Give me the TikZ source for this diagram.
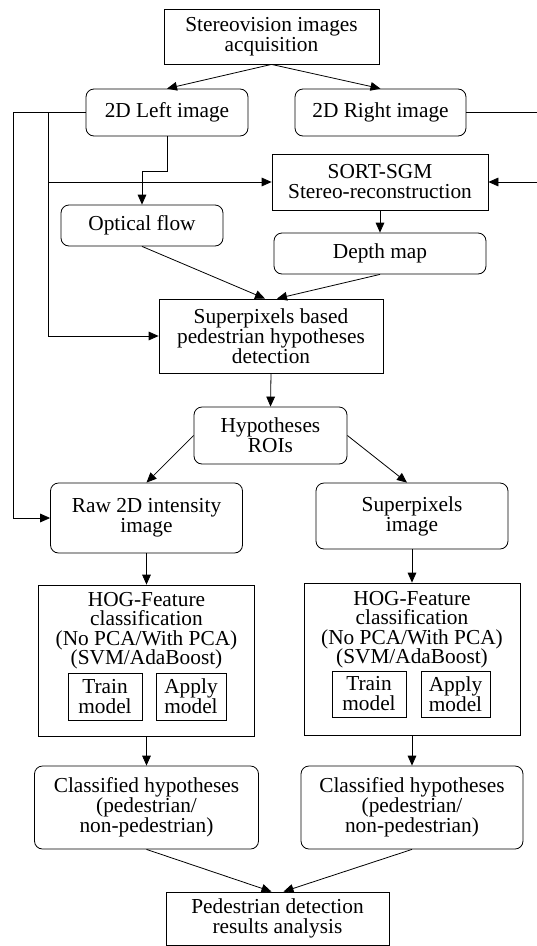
\documentclass[tikz,border=0pt]{standalone}
\usepackage{fontspec}
\setmainfont{Liberation Serif}
\usetikzlibrary{arrows.meta, calc}
\tikzset{
	flow chart/.is family,
	flow chart/.cd,
	process/.style = {
		draw,
		rectangle,
		align = center,
		inner sep = 0pt,
		line width = 0.6pt,
		font = \fontsize{16}{15}\selectfont,
	},
	data/.style = {
		flow chart/process,
		rounded corners = 6pt,
	},
	caption/.style = {
		align = center,
		inner sep = 0pt,
		font = \fontsize{16}{14.6}\selectfont,
	},
	link/.style = {
		line width = 0.6pt,
		-{Triangle[length = 7.5pt, width = 6.5pt]},
	},
}

\begin{document}
\begin{tikzpicture}[x = 0.75pt, y = -0.75pt]
	\useasboundingbox (0, 0) rectangle (536, 946);

	% inputs
	\node[flow chart/process, minimum width = 161.25pt, minimum height = 41.25pt] (acq) at (271.5, 36.5) {Stereovision images\\acquisition};
	\node[flow chart/data, minimum width = 121.5pt, minimum height = 35.25pt] (left) at (167, 112.5) {2D Left image};
	\node[flow chart/data, minimum width = 128.25pt, minimum height = 35.25pt] (right) at (380.5, 112.5) {2D Right image};
	\node[flow chart/process, minimum width = 162pt, minimum height = 42pt] (sgm) at (380, 182) {SORT-SGM\\Stereo-reconstruction};
	\node[flow chart/data, minimum width = 121.5pt, minimum height = 30.75pt] (flow) at (142, 225.5) {Optical flow};
	\node[flow chart/data, minimum width = 159pt, minimum height = 30.75pt] (depth) at (380, 253.5) {Depth map};

	% detection
	\node[flow chart/process, minimum width = 168pt, minimum height = 55.5pt] (hyp) at (271, 336) {Superpixels based\\pedestrian hypotheses\\detection};
	\node[flow chart/data, minimum width = 114.75pt, minimum height = 42.75pt] (rois) at (270.5, 435.5) {Hypotheses\\ROIs};
	\node[flow chart/data, minimum width = 144pt, minimum height = 52.5pt] (raw) at (146.5, 518) {Raw 2D intensity\\image};
	\node[flow chart/data, minimum width = 144pt, minimum height = 49.5pt] (spimg) at (412, 516) {Superpixels\\image};

	% classification
	\node[flow chart/process, minimum width = 162pt, minimum height = 113.25pt] (hogL) at (146.5, 660.5) {};
	\node[flow chart/caption] (hogLtext) at (146.5, 630.5) {HOG-Feature\\classification\\(No PCA/With PCA)\\(SVM/AdaBoost)};
	\node[flow chart/process, minimum width = 55.5pt, minimum height = 35.25pt] (trainL) at (105, 696.5) {Train\\model};
	\node[flow chart/process, minimum width = 52.5pt, minimum height = 35.25pt] (applyL) at (191, 696.5) {Apply\\model};
	\node[flow chart/process, minimum width = 162pt, minimum height = 114pt] (hogR) at (412, 659) {};
	\node[flow chart/caption] (hogRtext) at (412, 629.5) {HOG-Feature\\classification\\(No PCA/With PCA)\\(SVM/AdaBoost)};
	\node[flow chart/process, minimum width = 55.5pt, minimum height = 34.5pt] (trainR) at (369, 694) {Train\\model};
	\node[flow chart/process, minimum width = 51.75pt, minimum height = 34.5pt] (applyR) at (455.5, 694) {Apply\\model};

	% results
	\node[flow chart/data, minimum width = 168pt, minimum height = 62.25pt] (clsL) at (146.5, 807.5) {Classified hypotheses\\(pedestrian/\\non-pedestrian)};
	\node[flow chart/data, minimum width = 166.5pt, minimum height = 62.25pt] (clsR) at (412, 807.5) {Classified hypotheses\\(pedestrian/\\non-pedestrian)};
	\node[flow chart/process, minimum width = 167.25pt, minimum height = 39.75pt] (res) at (277.5, 918.5) {Pedestrian detection\\results analysis};

	\coordinate (outerbus) at (13, 112.5);
	\coordinate (innerbus) at (48, 112.5);
	\coordinate (rightbus) at (540, 112.5);
	\coordinate (flowbend) at (167, 171);

	\draw[flow chart/link] (acq.south) -- (left.north);
	\draw[flow chart/link] (acq.south) -- (right.north);
	\draw[flow chart/link] (left.west) -- (outerbus) |- (raw.west);
	\draw[flow chart/link] (innerbus) |- (sgm.west);
	\draw[flow chart/link] (innerbus) |- (hyp.west);
	\draw[flow chart/link] (right.east) -- (rightbus) |- (sgm.east);
	\draw[flow chart/link] (left.south) -- (flowbend) -| (flow.north);
	\draw[flow chart/link] (sgm.south) -- (depth.north);
	\draw[flow chart/link] (flow.south) -- ($(hyp.north) + (-6, 0)$);
	\draw[flow chart/link] (depth.south) -- ($(hyp.north) + (6, 0)$);
	\draw[flow chart/link] (hyp.south) -- (rois.north);
	\draw[flow chart/link] (rois.west) -- (raw.north);
	\draw[flow chart/link] (rois.east) -- ($(spimg.north) + (-5, 0)$);
	\draw[flow chart/link] (raw.south) -- (hogL.north);
	\draw[flow chart/link] (spimg.south) -- (hogR.north);
	\draw[flow chart/link] (hogL.south) -- (clsL.north);
	\draw[flow chart/link] (hogR.south) -- (clsR.north);
	\draw[flow chart/link] (clsL.south) -- ($(res.north) + (-6, 0)$);
	\draw[flow chart/link] (clsR.south) -- ($(res.north) + (6, 0)$);
\end{tikzpicture}
\end{document}
